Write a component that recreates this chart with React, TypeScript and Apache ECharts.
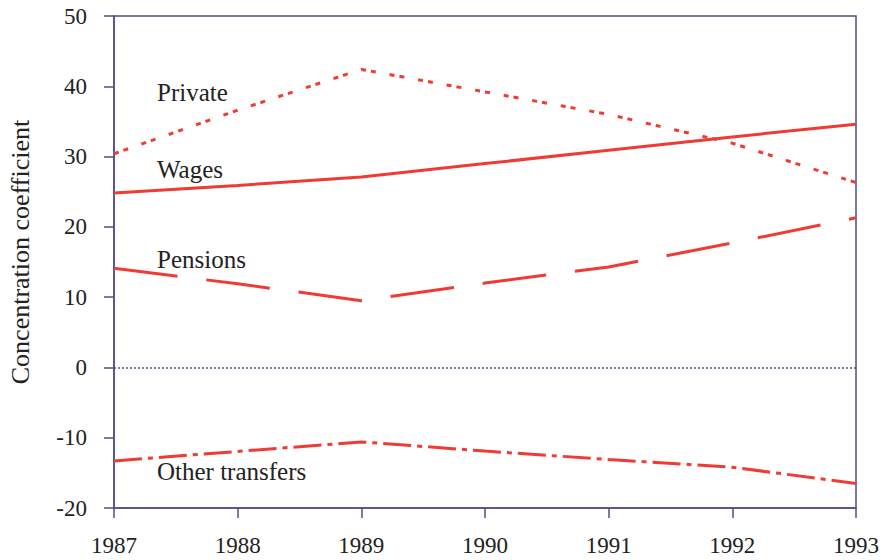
import React, { useEffect, useRef } from "react";
import * as echarts from "echarts";

const years = [1987, 1988, 1989, 1990, 1991, 1992, 1993];
const privateVals = [30.4, 36.6, 42.4, 39.2, 36.0, 31.9, 26.3];
const wagesVals = [24.8, 25.9, 27.1, 29.0, 30.9, 32.8, 34.6];
const pensionsVals = [14.1, 11.9, 9.5, 12.0, 14.3, 17.7, 21.3];
const otherVals = [-13.3, -11.95, -10.6, -11.9, -13.1, -14.2, -16.5];
const yTicks = [-20, -10, 0, 10, 20, 30, 40, 50];
const seriesLabels = ["Private", "Wages", "Pensions", "Other transfers"];

const RED = "#ef3b33";
const NAVY = "#4f4f88";
const FONT = "'Liberation Serif', 'Times New Roman', serif";

export default function App() {
  const ref = useRef<HTMLDivElement>(null);
  useEffect(() => {
    document.body.style.margin = "0";
    if (!ref.current) return;
    const chart = echarts.init(ref.current, null, { renderer: "svg" });
    const pts = (vals: number[]) => years.map((y, i) => [y, vals[i]]);
    const lineSeries = (name: string, vals: number[], type: any) => ({
      name,
      type: "line",
      data: pts(vals),
      symbol: "none",
      lineStyle: { color: RED, width: 3, type },
      z: 3,
    });
    chart.setOption({
      animation: false,
      backgroundColor: "#fff",
      textStyle: { fontFamily: FONT },
      grid: {
        left: 114,
        right: 31,
        top: 16,
        bottom: 52,
        show: true,
        borderColor: NAVY,
        borderWidth: 1.5,
        backgroundColor: "transparent",
      },
      xAxis: {
        type: "value",
        min: 1987,
        max: 1993,
        interval: 1,
        axisLine: { show: true, onZero: false, lineStyle: { color: NAVY, width: 1.5 } },
        axisTick: { show: true, length: 10, lineStyle: { color: NAVY, width: 1.5 } },
        splitLine: { show: false },
        axisLabel: {
          color: "#222",
          fontFamily: FONT,
          fontSize: 23,
          margin: 26,
          formatter: (v: number) => String(v),
        },
      },
      yAxis: {
        type: "value",
        min: yTicks[0],
        max: yTicks[yTicks.length - 1],
        interval: 10,
        axisLine: { show: true, onZero: false, lineStyle: { color: NAVY, width: 1.5 } },
        axisTick: { show: true, length: 10, lineStyle: { color: NAVY, width: 1.5 } },
        splitLine: { show: false },
        axisLabel: {
          color: "#222",
          fontFamily: FONT,
          fontSize: 23,
          margin: 27,
        },
      },
      series: [
        {
          ...lineSeries(seriesLabels[0], privateVals, [5, 5, 5, 14]),
          markLine: {
            silent: true,
            symbol: "none",
            label: { show: false },
            lineStyle: { color: NAVY, width: 1.5, type: [2, 2] },
            data: [{ yAxis: 0 }],
            z: 1,
          },
        },
        lineSeries(seriesLabels[1], wagesVals, "solid"),
        lineSeries(seriesLabels[2], pensionsVals, [64, 29]),
        lineSeries(seriesLabels[3], otherVals, [28, 6, 5, 6]),
      ],
      graphic: [
        {
          type: "text",
          x: 20,
          y: 252,
          rotation: Math.PI / 2,
          style: {
            text: "Concentration coefficient",
            fontFamily: FONT,
            fontSize: 26,
            fill: "#222",
            align: "center",
            verticalAlign: "middle",
          },
        },
        ...[
          { t: seriesLabels[0], y: 92 },
          { t: seriesLabels[1], y: 169 },
          { t: seriesLabels[2], y: 259 },
          { t: seriesLabels[3], y: 471 },
        ].map((l) => ({
          type: "text",
          x: 157,
          y: l.y,
          style: {
            text: l.t,
            fontFamily: FONT,
            fontSize: 25,
            fill: "#222",
            align: "left",
            verticalAlign: "middle",
          },
        })),
      ],
    });
    return () => chart.dispose();
  }, []);
  return <div ref={ref} style={{ width: 887, height: 560 }} />;
}
